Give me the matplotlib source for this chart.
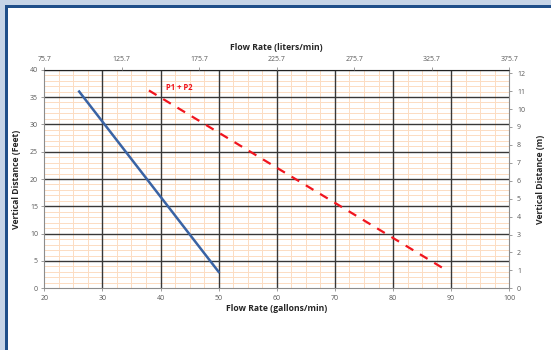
import numpy as np
import matplotlib.pyplot as plt
from matplotlib.patches import Rectangle
from matplotlib.ticker import MultipleLocator

# Pump curves (gallons/min vs feet)
p1_flow = [26, 50]
p1_head = [36, 3]
p12_flow = [38, 89.5]
p12_head = [36.2, 3.1]

top_ticks = [75.7, 125.7, 175.7, 225.7, 275.7, 325.7, 375.7]
right_ticks = list(range(0, 13))

FONT = ['Open Sans', 'DejaVu Sans']
plt.rcParams['font.family'] = FONT

fig = plt.figure(figsize=(5.51, 3.5), dpi=100, facecolor='white')

# Frame: light strip plus dark blue border at left/top
fig.add_artist(Rectangle((0, 0), 4.5 / 551, 1, transform=fig.transFigure,
                         facecolor='#c6d4e7', edgecolor='none'))
fig.add_artist(Rectangle((0, 1 - 4.5 / 350), 1, 4.5 / 350, transform=fig.transFigure,
                         facecolor='#c6d4e7', edgecolor='none'))
fig.add_artist(Rectangle((4.5 / 551, 0), 3 / 551, 1 - 4.5 / 350, transform=fig.transFigure,
                         facecolor='#1f4e89', edgecolor='none'))
fig.add_artist(Rectangle((4.5 / 551, 1 - 7.5 / 350), 1, 3 / 350, transform=fig.transFigure,
                         facecolor='#1f4e89', edgecolor='none'))

ax = fig.add_axes([44.3 / 551, 1 - 288.3 / 350, 465 / 551, 218.6 / 350])
ax.set_xlim(20, 100)
ax.set_ylim(0, 40)
ax.xaxis.set_major_locator(MultipleLocator(10))
ax.xaxis.set_minor_locator(MultipleLocator(2.5))
ax.yaxis.set_major_locator(MultipleLocator(5))
ax.yaxis.set_minor_locator(MultipleLocator(1))
ax.grid(which='minor', color='#fcdcc2', linewidth=0.7)
ax.set_axisbelow(True)

# heavy grid drawn above the light one
for gx in ax.get_xticks():
    if 20 < gx < 100:
        ax.axvline(gx, color='#383838', linewidth=1.0, zorder=1.5)
for gy in ax.get_yticks():
    if 0 < gy <= 40:
        ax.axhline(gy, color='#383838', linewidth=1.0, zorder=1.5)

ax.plot(p1_flow, p1_head, color='#3a63a4', linewidth=1.8, zorder=3)
ax.plot(p12_flow, p12_head, color='#f0141e', linewidth=1.6, linestyle=(0, (4, 3.5)), zorder=3)
ax.text(41.0, 36.7, 'P1 + P2', color='#f0141e', fontsize=5.5, fontweight='bold',
        va='center', ha='left', family=FONT)

for side in ['left', 'bottom', 'right']:
    ax.spines[side].set_color('#8c8c8c')
ax.spines['top'].set_color('#222222')
ax.tick_params(which='minor', length=0)
ax.tick_params(which='major', length=2.5, width=0.6, color='#8c8c8c',
               labelsize=5, labelcolor='#595959', pad=2)
ax.set_xlabel('Flow Rate (gallons/min)', fontsize=6.2, fontweight='bold',
              color='#262626', labelpad=2)
ax.set_ylabel('Vertical Distance (Feet)', fontsize=6.2, fontweight='bold',
              color='#262626', labelpad=6)

# Secondary top axis: liters/min
axt = ax.twiny()
axt.set_xlim(top_ticks[0], top_ticks[-1])
axt.set_xticks(top_ticks)
axt.set_xticklabels([f'{t:.1f}' for t in top_ticks])
axt.tick_params(length=2.5, width=0.6, color='#8c8c8c', labelsize=5,
                labelcolor='#595959', pad=2)
axt.set_xlabel('Flow Rate (liters/min)', fontsize=6.2, fontweight='bold',
               color='#262626', labelpad=5)

# Secondary right axis: meters
axr = ax.twinx()
axr.set_ylim(0, 40 * 0.3048)
axr.set_yticks(right_ticks)
axr.tick_params(length=2.5, width=0.6, color='#8c8c8c', labelsize=5,
                labelcolor='#595959', pad=3)
axr.set_ylabel('Vertical Distance (m)', fontsize=6.2, fontweight='bold',
               color='#262626', labelpad=8)

for a in (axt, axr):
    for s in a.spines.values():
        s.set_visible(False)

fig.savefig('out.png', dpi=100, facecolor='white')
